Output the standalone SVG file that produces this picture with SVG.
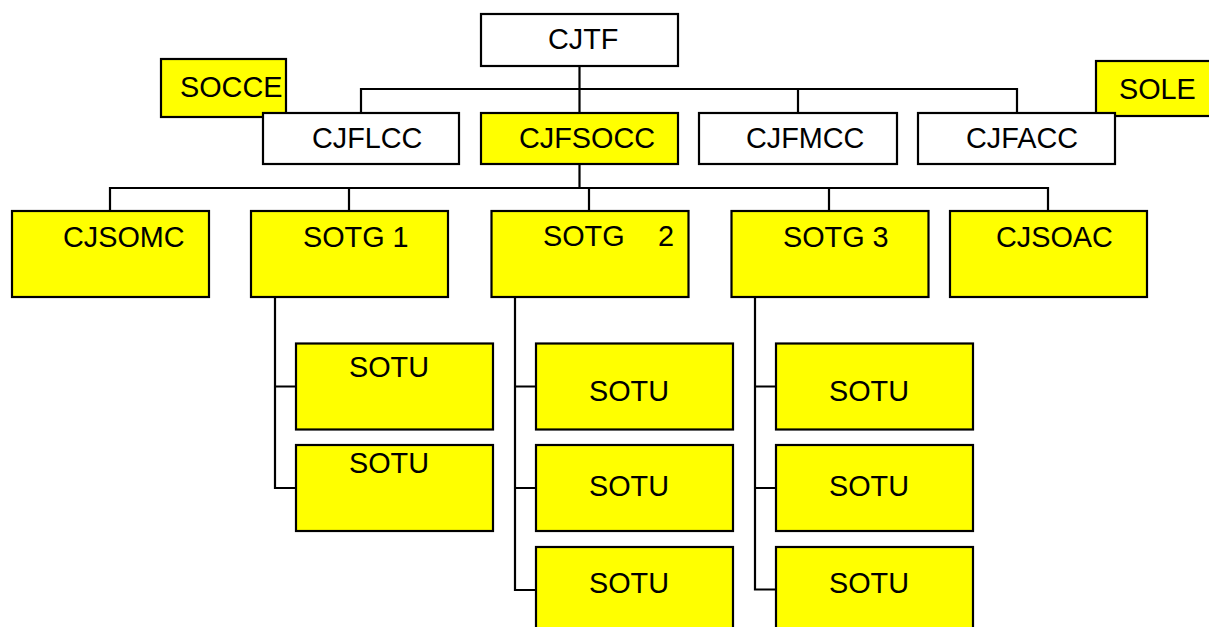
<svg xmlns="http://www.w3.org/2000/svg" width="1209" height="627" viewBox="0 0 1209 627">
<style>
.b{stroke:#000;stroke-width:2.2}
.w{fill:#fff}
.y{fill:#ffff00}
.t{font-family:"Liberation Sans",Arial,sans-serif;font-size:28.8px;fill:#000}
.c{fill:none;stroke:#000;stroke-width:2.2}
</style>
<rect width="1209" height="627" fill="#fff"/>
<g id="connectors">
<path class="c" d="M579.5 66V113M361 113V89H1017V113M798 89V113"/>
<path class="c" d="M579.5 164V188M110 211V188H1048V211M349 188V211M589 188V211M829 188V211"/>
<path class="c" d="M275 297V488H296M275 386.5H296"/>
<path class="c" d="M515 297V590H536M515 386.5H536M515 488H536"/>
<path class="c" d="M755 297V589.5H776M755 386.5H776M755 488H776"/>
</g>
<g id="cjtf"><rect class="b w" x="481" y="14" width="197" height="52"/><text class="t" x="548" y="49">CJTF</text></g>
<g id="socce"><rect class="b y" x="161" y="59" width="125" height="58"/><text class="t" x="180" y="97">SOCCE</text></g>
<g id="sole"><rect class="b y" x="1096" y="61" width="125" height="55"/><text class="t" x="1119" y="99">SOLE</text></g>
<g id="cjflcc"><rect class="b w" x="263" y="113" width="196" height="51"/><text class="t" x="312" y="148">CJFLCC</text></g>
<g id="cjfsocc"><rect class="b y" x="481" y="113" width="197" height="51"/><text class="t" x="519" y="148">CJFSOCC</text></g>
<g id="cjfmcc"><rect class="b w" x="699" y="113" width="198" height="51"/><text class="t" x="746" y="148">CJFMCC</text></g>
<g id="cjfacc"><rect class="b w" x="918" y="113" width="197" height="51"/><text class="t" x="966" y="148">CJFACC</text></g>
<g id="cjsomc"><rect class="b y" x="12" y="211" width="197" height="86"/><text class="t" x="63" y="247">CJSOMC</text></g>
<g id="sotg1"><rect class="b y" x="251" y="211" width="197" height="86"/><text class="t" x="303" y="247">SOTG 1</text></g>
<g id="sotg2"><rect class="b y" x="491.5" y="211" width="197" height="86"/><text class="t" x="543" y="246">SOTG<tspan x="658">2</tspan></text></g>
<g id="sotg3"><rect class="b y" x="731.5" y="211" width="197" height="86"/><text class="t" x="783" y="247">SOTG 3</text></g>
<g id="cjsoac"><rect class="b y" x="950" y="211" width="197" height="86"/><text class="t" x="996" y="247">CJSOAC</text></g>
<g id="sotu-1a"><rect class="b y" x="296" y="343.5" width="197" height="86"/><text class="t" x="349" y="377">SOTU</text></g>
<g id="sotu-1b"><rect class="b y" x="296" y="445" width="197" height="86"/><text class="t" x="349" y="473">SOTU</text></g>
<g id="sotu-2a"><rect class="b y" x="536" y="343.5" width="197" height="86"/><text class="t" x="589" y="401">SOTU</text></g>
<g id="sotu-2b"><rect class="b y" x="536" y="445" width="197" height="86"/><text class="t" x="589" y="496">SOTU</text></g>
<g id="sotu-2c"><rect class="b y" x="536" y="547" width="197" height="86"/><text class="t" x="589" y="593">SOTU</text></g>
<g id="sotu-3a"><rect class="b y" x="776" y="343.5" width="197" height="86"/><text class="t" x="829" y="401">SOTU</text></g>
<g id="sotu-3b"><rect class="b y" x="776" y="445" width="197" height="86"/><text class="t" x="829" y="496">SOTU</text></g>
<g id="sotu-3c"><rect class="b y" x="776" y="547" width="197" height="86"/><text class="t" x="829" y="593">SOTU</text></g>
</svg>
